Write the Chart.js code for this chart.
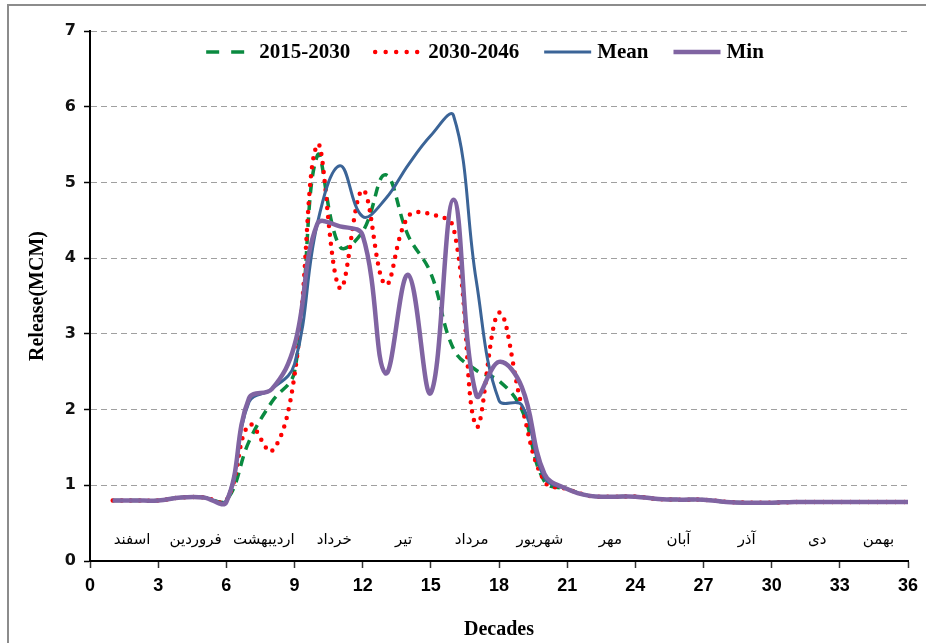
<!DOCTYPE html>
<html>
<head>
<meta charset="utf-8">
<script src="https://cdn.jsdelivr.net/npm/chart.js@4.4.1/dist/chart.umd.min.js"></script>
<style>
  html, body { margin: 0; padding: 0; background: #fff; overflow: hidden; }
  #wrap { position: relative; width: 926px; height: 643px; }
  #frame { position: absolute; left: 7px; top: 4px; width: 960px; height: 700px; border: 2px solid #8c8c8c; box-sizing: border-box; pointer-events: none; }
  canvas { position: absolute; left: 0; top: 0; }
</style>
</head>
<body>
<div id="wrap">
  <canvas id="chart" width="926" height="643"></canvas>
  <div id="frame"></div>
</div>
<script>
// decades (x) and release values in MCM
const decades = [1,2,3,4,5,6,7,8,9,10,11,12,13,14,15,16,17,18,19,20,21,22,23,24,25,26,27,28,29,30,31,32,33,34,35,36];

const release2015 = [0.8,0.8,0.8,0.84,0.84,0.8,1.58,2.1,2.5,5.35,4.15,4.35,5.1,4.3,3.8,2.8,2.52,2.38,2.0,1.05,0.95,0.86,0.85,0.85,0.82,0.81,0.81,0.78,0.77,0.77,0.78,0.78,0.78,0.78,0.78,0.78];
const release2030 = [0.8,0.8,0.8,0.84,0.84,0.8,1.8,1.45,2.45,5.5,3.6,4.9,3.65,4.55,4.58,4.4,1.78,3.28,2.05,1.05,0.95,0.86,0.85,0.85,0.82,0.81,0.81,0.78,0.77,0.77,0.78,0.78,0.78,0.78,0.78,0.78];
const releaseMean = [0.8,0.8,0.8,0.84,0.84,0.8,2.1,2.27,2.6,4.45,5.22,4.55,4.78,5.23,5.62,5.88,3.7,2.12,2.06,1.1,0.95,0.86,0.85,0.85,0.82,0.81,0.81,0.78,0.77,0.77,0.78,0.78,0.78,0.78,0.78,0.78];
const releaseMin = [0.8,0.8,0.8,0.84,0.84,0.78,2.15,2.27,2.85,4.45,4.42,4.3,2.48,3.78,2.22,4.77,2.19,2.63,2.3,1.15,0.95,0.86,0.85,0.85,0.82,0.81,0.81,0.78,0.77,0.77,0.78,0.78,0.78,0.78,0.78,0.78];

// persian month names written inside the plot
const monthNames = ['اسفند','فروردین','اردیبهشت','خرداد','تیر','مرداد','شهریور','مهر','آبان','آذر','دی','بهمن'];
const monthPos = [1.85,4.65,7.65,10.75,13.8,16.8,19.8,22.9,25.9,28.9,32.0,34.7];
const monthLevel = 0.28;

const xTicks = [0,3,6,9,12,15,18,21,24,27,30,33,36];

function pts(arr) {
  return decades.map((d, i) => ({ x: d, y: arr[i] }));
}

const serif = '"Liberation Serif", "Times New Roman", serif';

const monthPlugin = {
  id: 'months',
  afterDatasetsDraw(chart) {
    const { ctx, scales } = chart;
    ctx.save();
    ctx.font = '15px "DejaVu Sans", sans-serif';
    ctx.fillStyle = '#000';
    ctx.textAlign = 'center';
    ctx.textBaseline = 'middle';
    ctx.direction = 'rtl';
    monthNames.forEach((m, i) => {
      ctx.fillText(m, scales.x.getPixelForValue(monthPos[i]), scales.y.getPixelForValue(monthLevel));
    });
    ctx.restore();
  }
};

const legendPlugin = {
  id: 'inlineLegend',
  afterDraw(chart) {
    const { ctx, chartArea } = chart;
    const sample = 47, gapText = 6, gapItem = 25;
    ctx.save();
    ctx.font = 'bold 21px ' + serif;
    ctx.textBaseline = 'middle';
    const items = chart.data.datasets.map(ds => ({ ds, w: ctx.measureText(ds.label).width }));
    const total = items.reduce((s, it) => s + sample + gapText + it.w, 0) + gapItem * (items.length - 1);
    let x = (chartArea.left + chartArea.right) / 2 - total / 2 - 14;
    const y = chartArea.top + 21;
    items.forEach(it => {
      const ds = it.ds;
      ctx.save();
      ctx.strokeStyle = ds.borderColor;
      ctx.lineWidth = ds.borderWidth;
      ctx.lineCap = ds.borderCapStyle || 'butt';
      ctx.setLineDash(ds.legendDash || ds.borderDash || []);
      ctx.beginPath();
      ctx.moveTo(x, y);
      ctx.lineTo(x + sample, y);
      ctx.stroke();
      ctx.restore();
      ctx.fillStyle = '#000';
      ctx.fillText(ds.label, x + sample + gapText, y + 1);
      x += sample + gapText + it.w + gapItem;
    });
    ctx.restore();
  }
};

new Chart(document.getElementById('chart').getContext('2d'), {
  type: 'line',
  data: {
    datasets: [
      { label: '2015-2030', data: pts(release2015), borderColor: '#0a8a40', borderWidth: 3.5, borderDash: [10, 7], legendDash: [13, 12], order: 3 },
      { label: '2030-2046', data: pts(release2030), borderColor: '#ff0000', borderWidth: 4.5, borderDash: [0, 9], borderCapStyle: 'round', legendDash: [0, 10.5], order: 2 },
      { label: 'Mean', data: pts(releaseMean), borderColor: '#3b6497', borderWidth: 3, order: 1 },
      { label: 'Min', data: pts(releaseMin), borderColor: '#8064a2', borderWidth: 4.5, order: 0 }
    ]
  },
  options: {
    responsive: false,
    animation: false,
    layout: { padding: { left: 10, right: 18, top: 31, bottom: 0 } },
    elements: {
      point: { radius: 0 },
      line: { tension: 0.4, fill: false, borderJoinStyle: 'round' }
    },
    plugins: {
      legend: { display: false },
      tooltip: { enabled: false }
    },
    scales: {
      x: {
        type: 'linear',
        min: 0,
        max: 36,
        afterBuildTicks: s => { s.ticks = xTicks.map(v => ({ value: v })); },
        afterFit: s => { s.height = 82; },
        ticks: {
          color: '#000',
          padding: 7,
          maxRotation: 0,
          font: { family: '"Liberation Sans Narrow", "Arial Narrow", "Liberation Sans", sans-serif', weight: 'bold', size: 18 }
        },
        grid: { display: true, drawOnChartArea: false, drawTicks: true, tickLength: 7, tickColor: '#333', tickWidth: 1.5 },
        border: { color: '#000', width: 2 },
        title: { display: true, text: 'Decades', color: '#000', font: { family: serif, weight: 'bold', size: 20 }, padding: { top: 0, bottom: 1 } }
      },
      y: {
        min: 0,
        max: 7,
        afterFit: s => { s.width = 80; },
        ticks: {
          stepSize: 1,
          color: '#111',
          padding: 8,
          font: { family: '"DejaVu Sans", Tahoma, sans-serif', weight: 'bold', size: 16 }
        },
        grid: {
          color: c => (c.tick && c.tick.value === 0) ? 'rgba(0,0,0,0)' : '#a0a0a0',
          lineWidth: 1,
          tickLength: 6,
          tickColor: '#000',
          tickWidth: 1.5,
          tickBorderDash: []
        },
        border: { color: '#000', width: 2, dash: [6, 4] },
        title: { display: true, text: 'Release(MCM)', color: '#000', font: { family: serif, weight: 'bold', size: 20 }, padding: { top: 16, bottom: 0 } }
      }
    }
  },
  plugins: [monthPlugin, legendPlugin]
});
</script>
</body>
</html>
